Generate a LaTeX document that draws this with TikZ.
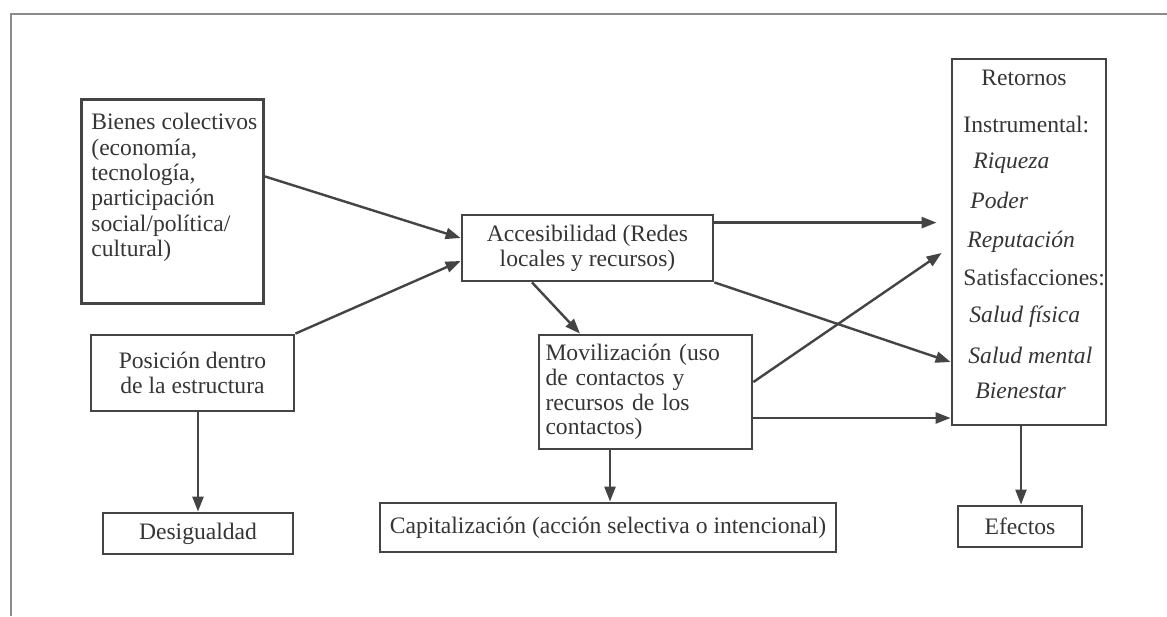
\documentclass[tikz,border=0pt]{standalone}
\usepackage{fontspec}
\setmainfont{Liberation Serif}
\usetikzlibrary{arrows.meta,calc}
\definecolor{ink}{HTML}{444444}
\definecolor{txt}{HTML}{353535}
\definecolor{framec}{HTML}{8C8C8C}
\begin{document}
\begin{tikzpicture}[x=0.5pt,y=-0.5pt,
  box/.style={draw=ink, line width=1.4pt, inner sep=0pt, text=txt, font=\fontsize{11.8pt}{12.4pt}\selectfont},
  arr/.style={draw=ink, line width=1.2pt, -{Triangle[length=7.5pt,width=5.5pt]}},
  lbl/.style={text=txt, inner sep=0pt, font=\fontsize{11.8pt}{12.4pt}\selectfont},
  ilbl/.style={lbl, font=\fontsize{11.8pt}{12.4pt}\selectfont\itshape}]
\fill[white] (0,0) rectangle (1167,616);
\useasboundingbox (0,0) rectangle (1167,616);
\draw[framec, line width=0.6pt] (11,616) -- (11,14) -- (1167,14);

% boxes
\node[box, anchor=north west, minimum width=91pt, minimum height=102pt] (bienes) at (80,98)
  {\parbox[c][102pt][t]{91pt}{\raggedright\leftskip=5pt\baselineskip=12.7pt\vspace*{7pt}Bienes colectivos\\(economía,\\tecnología,\\participación\\social/política/\\cultural)}};
\node[box, minimum width=125.5pt, minimum height=33pt, align=center] (acces) at (587.5,248)
  {Accesibilidad (Redes\\locales y recursos)};
\node[box, minimum width=101.5pt, minimum height=38pt, align=center] (pos) at (192.5,373)
  {Posición dentro\\de la estructura};
\node[box, minimum width=95pt, minimum height=20.5pt] (desig) at (198,533.5) {Desigualdad};
\node[box, minimum width=106.5pt, minimum height=57pt, align=left, text width=100pt] (mov) at (645.5,392)
  {Movilización (uso\\de contactos y\\recursos de los\\contactos)};
\node[box, minimum width=228pt, minimum height=24.5pt] (cap) at (608,527.5)
  {Capitalización (acción selectiva o intencional)};
\node[box, minimum width=62pt, minimum height=20.5pt] (efe) at (1020,526.5) {Efectos};
\node[box, minimum width=77pt, minimum height=183pt] (ret) at (1029,242) {};

% texts of the Retornos box
\node[lbl, anchor=base] (r1) at (1024,85) {Retornos};
\node[lbl, anchor=base west] (r2) at (963,132) {Instrumental:};
\node[ilbl, anchor=base west] (r3) at (973,168) {Riqueza};
\node[ilbl, anchor=base west] (r4) at (970,208) {Poder};
\node[ilbl, anchor=base west] (r5) at (967,247) {Reputación};
\node[lbl, anchor=base west] (r6) at (963,285) {Satisfacciones:};
\node[ilbl, anchor=base west] (r7) at (969,322) {Salud física};
\node[ilbl, anchor=base west] (r8) at (968,363) {Salud mental};
\node[ilbl, anchor=base west] (r9) at (975,398) {Bienestar};

% connectors
\draw[arr] ([yshift=12.5pt]bienes.east) -- ([yshift=5pt]acces.west);
\draw[arr] (pos.north east) -- ([yshift=-6.5pt]acces.west);
\draw[arr] ([xshift=-27.75pt]acces.south) -- ([xshift=-32.75pt]mov.north);
\coordinate (a4) at ([yshift=-4.5pt]acces.north east);
\draw[arr, shorten >=7pt] (a4) -- (a4 -| ret.west);
\draw[arr] (acces.south east) -- ([yshift=-60pt]ret.west);
\draw[arr] ([yshift=5pt]mov.east) -- ([xshift=-4.5pt,yshift=-5.5pt]ret.west);
\coordinate (m7) at ([yshift=-13pt]mov.east);
\draw[arr] (m7) -- (m7 -| ret.west);
\coordinate (m8) at ([xshift=-17.75pt]mov.south);
\draw[arr] (m8) -- (m8 |- cap.north);
\coordinate (r0) at ([xshift=-4pt]ret.south);
\draw[arr] (r0) -- (r0 |- efe.north);
\draw[arr] (desig.north |- pos.south) -- (desig.north);
\end{tikzpicture}
\end{document}
